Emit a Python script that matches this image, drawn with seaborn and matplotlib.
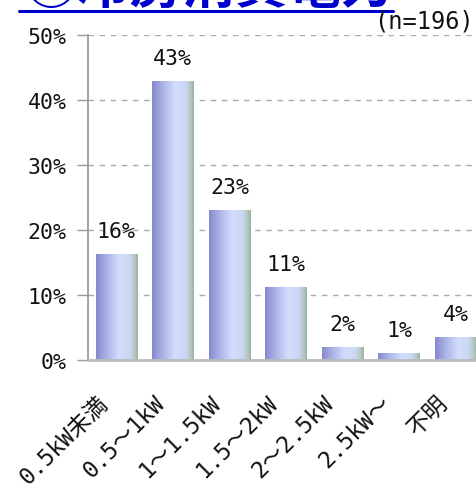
import numpy as np
import pandas as pd
import matplotlib
matplotlib.use("Agg")
import matplotlib.pyplot as plt
from matplotlib.colors import LinearSegmentedColormap
from matplotlib.lines import Line2D
from matplotlib.transforms import ScaledTranslation
import seaborn as sns

categories = ["0.5kW未満", "0.5～1kW", "1～1.5kW", "1.5～2kW", "2～2.5kW", "2.5kW～", "不明"]
shares = [16.3, 42.9, 23.0, 11.2, 2.0, 1.0, 3.6]
yticks = [0, 10, 20, 30, 40, 50]
title = "②冷房消費電力"
sample_note = "(n=196)"

sns.set_theme(style="white")
plt.rcParams["font.family"] = ["DejaVu Sans Mono", "Noto Sans CJK JP"]

df = pd.DataFrame({"category": categories, "share": shares})

fig = plt.figure(figsize=(4.77, 4.89), dpi=100)
ax = fig.add_axes([0.1845, 0.2618, 0.83, 0.6646])

sns.barplot(data=df, x="category", y="share", ax=ax, width=0.73,
            color="#b8c4f0", edgecolor="none", saturation=1)

# horizontal shading inside each bar
shade = LinearSegmentedColormap.from_list(
    "barshade",
    [(0.0, "#8589cc"), (0.25, "#aab3e6"), (0.55, "#d2ddfd"),
     (0.8, "#cbd8f4"), (0.92, "#b5c8c4"), (1.0, "#98b39c")])
grad = np.linspace(0, 1, 256).reshape(1, -1)
for patch in ax.patches:
    x0, y0 = patch.get_x(), patch.get_y()
    w, h = patch.get_width(), patch.get_height()
    im = ax.imshow(grad, cmap=shade, aspect="auto",
                   extent=[x0, x0 + w, y0, y0 + h], zorder=patch.get_zorder() + 0.1)
    im.set_clip_path(patch)
    patch.set_facecolor("none")

ax.set_xlim(-0.5, len(categories) - 0.5)
ax.set_ylim(0, 50)
ax.set_yticks(yticks)
ax.set_yticklabels([f"{t}%" for t in yticks], fontsize=15.5, color="#111111")
ax.set_xticks(range(len(categories)))
ax.set_xlabel("")
ax.set_ylabel("")

ax.tick_params(axis="y", which="both", left=True, length=8, width=1,
               color="#999999", pad=7.5)
ax.tick_params(axis="x", bottom=False, pad=16)

ax.set_xticklabels(categories, rotation=45, ha="right", rotation_mode="anchor",
                   fontsize=16.5, color="#111111")
shift = ScaledTranslation(-20 / 100, 0, fig.dpi_scale_trans)
for lab in ax.get_xticklabels():
    lab.set_transform(lab.get_transform() + shift)

for yv in yticks[1:]:
    ax.axhline(yv, color="#aaaaaa", lw=1, ls=(0, (4, 4)), zorder=0)

for side in ["top", "right"]:
    ax.spines[side].set_visible(False)
ax.spines["left"].set_color("#999999")
ax.spines["bottom"].set_color("#bbbbbb")
ax.spines["bottom"].set_linewidth(2)
ax.set_axisbelow(True)

for i, v in enumerate(shares):
    ax.text(i, v + 2.0, f"{v:.0f}%", ha="center", va="bottom",
            fontsize=15.5, color="#111111")

# heading, partly above the top edge, with underline
fig.text(24 / 477, 1 - 3 / 489, title, fontsize=38, fontweight="bold", color="#0000cc",
         family=["Noto Sans CJK JP"], ha="left", va="baseline")
fig.add_artist(Line2D([19 / 477, 393 / 477], [1 - 12 / 489, 1 - 12 / 489],
                      color="#0000cc", lw=2.2, transform=fig.transFigure))
fig.text(374 / 477, 1 - 28 / 489, sample_note, fontsize=17, color="#111111",
         ha="left", va="baseline")

fig.savefig("out.png", dpi=100)
